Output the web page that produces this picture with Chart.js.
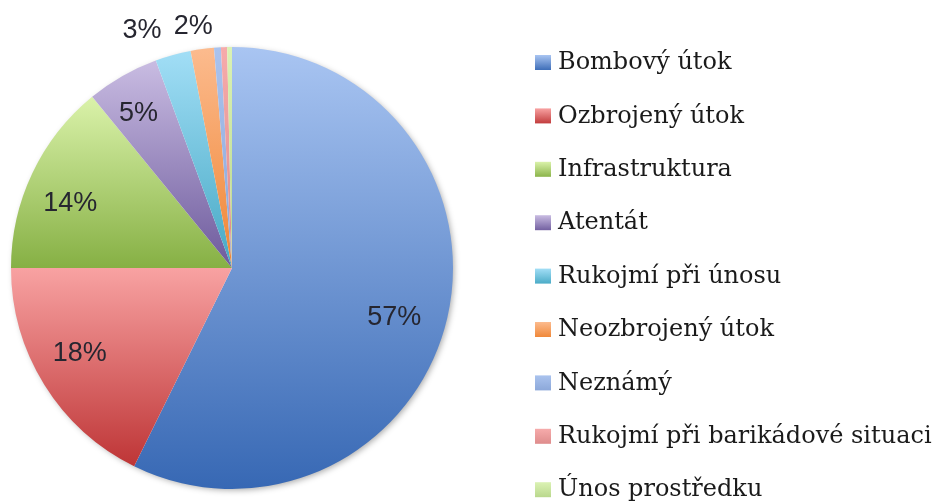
<!DOCTYPE html>
<html lang="cs">
<head>
<meta charset="UTF-8">
<title>Typy útoků</title>
<script src="https://cdn.jsdelivr.net/npm/chart.js@4/dist/chart.umd.min.js"></script>
<style>
  html, body { margin: 0; padding: 0; background: #fff; overflow: hidden; }
  #wrap { width: 938px; height: 501px; position: relative; }
</style>
</head>
<body>
<div id="wrap"><canvas id="myChart" width="938" height="501"></canvas></div>
<script>
// data
var labels = ['Bombový útok', 'Ozbrojený útok', 'Infrastruktura', 'Atentát', 'Rukojmí při únosu',
              'Neozbrojený útok', 'Neznámý', 'Rukojmí při barikádové situaci', 'Únos prostředku'];
var shares = [57.3, 17.7, 14.1, 5.3, 2.6, 1.7, 0.5, 0.45, 0.35];

// light (top) and dark (bottom) colour of every slice
var lightCols = ['#a9c5f2', '#f8a2a2', '#daf2aa', '#c9bce2', '#a2def6', '#fcbb8e', '#aac3ee', '#f6abab', '#dbf2b4'];
var darkCols  = ['#3768b4', '#be3536', '#86b044', '#6d5a9c', '#45a8c4', '#ef8534', '#8aa6d8', '#dd8a8a', '#b7d68a'];

function sliceGradient(context) {
    var chart = context.chart;
    var area = chart.chartArea;
    var i = context.dataIndex;
    if (!area) return lightCols[i];
    var cx = (area.left + area.right) / 2, cy = (area.top + area.bottom) / 2;
    var r = Math.min(area.right - area.left, area.bottom - area.top) / 2;
    var total = shares.reduce(function (a, b) { return a + b; }, 0);
    var before = 0;
    for (var k = 0; k < i; k++) before += shares[k];
    var a1 = -Math.PI / 2 + 2 * Math.PI * before / total;
    var a2 = a1 + 2 * Math.PI * shares[i] / total;
    var ys = [cy, cy + r * Math.sin(a1), cy + r * Math.sin(a2)];
    if (a1 <= Math.PI / 2 && a2 >= Math.PI / 2) ys.push(cy + r);
    if (a1 <= -Math.PI / 2 + 0.0001) ys.push(cy - r);
    if (a2 >= 3 * Math.PI / 2) ys.push(cy - r);
    var top = Math.min.apply(null, ys), bot = Math.max.apply(null, ys);
    if (bot - top < 2) bot = top + 2;
    var g = chart.ctx.createLinearGradient(0, top, 0, bot);
    g.addColorStop(0, lightCols[i]);
    g.addColorStop(1, darkCols[i]);
    return g;
}

// soft shadow under the pie
var pieShadow = {
    id: 'pieShadow',
    beforeDatasetsDraw: function (chart) {
        var meta = chart.getDatasetMeta(0);
        if (!meta.data.length) return;
        var arc = meta.data[0];
        var ctx = chart.ctx;
        ctx.save();
        ctx.shadowColor = 'rgba(0,0,0,0.35)';
        ctx.shadowBlur = 6;
        ctx.shadowOffsetX = 2;
        ctx.shadowOffsetY = 2;
        ctx.fillStyle = '#fff';
        ctx.beginPath();
        ctx.arc(arc.x, arc.y, arc.outerRadius - 1, 0, Math.PI * 2);
        ctx.fill();
        ctx.restore();
    }
};

// percentage labels, nudged a little like Excel's "best fit"
var labelNudge = [[-10, 9], [-2, -8], [-2, 11], [-6, -1], [-25, -3], [-6, -1]];
var pctLabels = {
    id: 'pctLabels',
    afterDatasetsDraw: function (chart) {
        var ctx = chart.ctx;
        var meta = chart.getDatasetMeta(0);
        var total = shares.reduce(function (a, b) { return a + b; }, 0);
        ctx.save();
        ctx.font = '27px "Liberation Sans"';
        ctx.fillStyle = '#262630';
        ctx.textAlign = 'center';
        ctx.textBaseline = 'middle';
        meta.data.forEach(function (arc, i) {
            var pct = Math.round(shares[i] / total * 100);
            if (pct < 2) return;
            var mid = (arc.startAngle + arc.endAngle) / 2;
            var rr = pct >= 5 ? arc.outerRadius * 0.8 : arc.outerRadius * 1.1;
            var n = labelNudge[i] || [0, 0];
            var x = arc.x + rr * Math.cos(mid) + n[0];
            var y = arc.y + rr * Math.sin(mid) + n[1];
            ctx.fillText(pct + '%', x, y);
        });
        ctx.restore();
    }
};

// legend on the right, runs past the bottom edge like the original
var sideLegend = {
    id: 'sideLegend',
    afterDraw: function (chart) {
        var ctx = chart.ctx;
        ctx.save();
        ctx.font = '24px "DejaVu Serif"';
        ctx.textBaseline = 'middle';
        labels.forEach(function (lab, i) {
            var y = 63 + i * 53.4;
            var g = ctx.createLinearGradient(0, y - 8, 0, y + 8);
            g.addColorStop(0, lightCols[i]);
            g.addColorStop(1, darkCols[i]);
            ctx.fillStyle = g;
            ctx.fillRect(535, y - 8, 16, 15);
            ctx.fillStyle = '#1a1a1a';
            ctx.fillText(lab, 558, y);
        });
        ctx.restore();
    }
};

var ctx = document.getElementById('myChart').getContext('2d');
var chart = new Chart(ctx, {
    type: 'pie',
    data: {
        labels: labels,
        datasets: [{
            data: shares,
            backgroundColor: sliceGradient,
            borderWidth: 0
        }]
    },
    options: {
        responsive: false,
        animation: false,
        layout: { padding: { left: 11, top: 47, bottom: 12, right: 485 } },
        plugins: {
            legend: { display: false },
            tooltip: { enabled: false }
        }
    },
    plugins: [pieShadow, pctLabels, sideLegend]
});
</script>
</body>
</html>
